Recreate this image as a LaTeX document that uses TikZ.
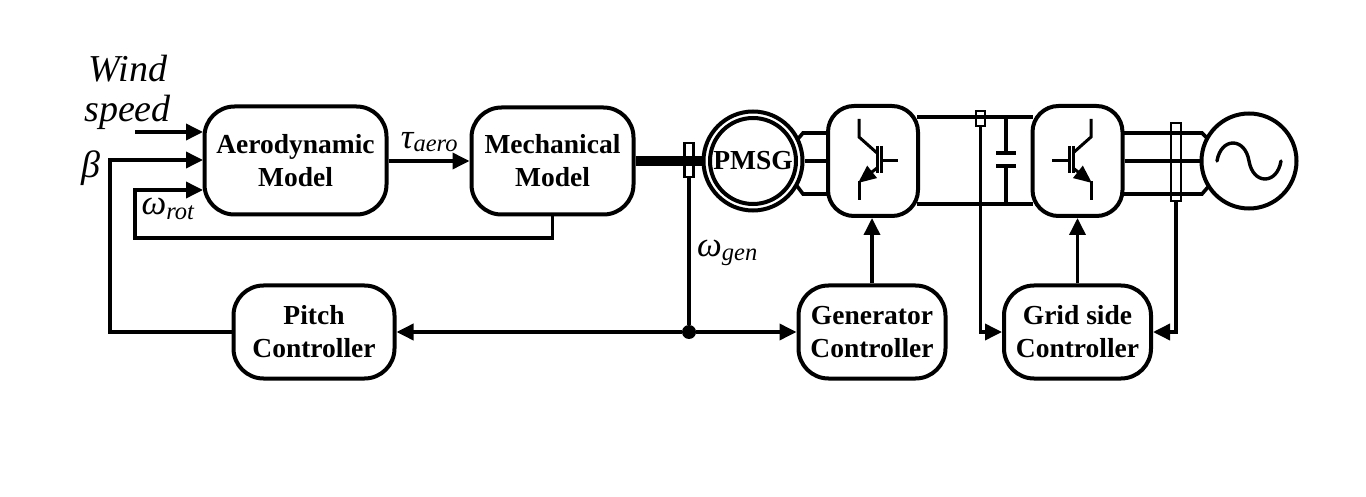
\documentclass[tikz,border=0pt]{standalone}
\usepackage{fontspec}
\setmainfont{Liberation Serif}
\usepackage{tikz}
\usetikzlibrary{arrows.meta, calc}
\tikzset{
    blockbox/.style={draw, line width=4pt, rounded corners=30pt, align=center, font=\fontsize{27.5}{33}\selectfont\bfseries},
    convbox/.style={draw, line width=4pt, rounded corners=26pt, minimum width=90pt, minimum height=110pt},
    sig/.style={line width=3.6pt, -{Triangle[length=17pt,width=16pt]}},
    wire/.style={line width=3.6pt},
    thinwire/.style={line width=3pt},
    sensor/.style={draw, line width=2.8pt, inner sep=0pt},
    lbl/.style={inner sep=0pt, font=\fontsize{38}{40}\selectfont\itshape},
    sublbl/.style={inner sep=0pt, font=\fontsize{35}{38}\selectfont\itshape}
}
\begin{document}
\begin{tikzpicture}[x=1pt, y=-1pt]
    \useasboundingbox (0,0) rectangle (1366,497);
    % blocks
    \node[blockbox, minimum width=182pt, minimum height=108pt] (aero) at (295.5,160.5) {Aerodynamic\\Model};
    \node[blockbox, minimum width=162pt, minimum height=107pt] (mech) at (552.5,161) {Mechanical\\Model};
    \node[blockbox, minimum width=161pt, minimum height=93pt] (pitch) at (314,332) {Pitch\\Controller};
    \node[blockbox, minimum width=147pt, minimum height=93pt] (genctrl) at (872,332) {Generator\\Controller};
    \node[blockbox, minimum width=147pt, minimum height=93pt] (gridctrl) at (1077.5,332) {Grid side\\Controller};
    \node[convbox] (convA) at (873,161) {};
    \node[convbox] (convB) at (1077.5,161) {};
    % machines
    \node[circle, draw, line width=4pt, minimum size=99pt, inner sep=0pt] (pmsgout) at (753,161) {};
    \node[circle, draw, line width=4pt, minimum size=86pt, inner sep=0pt, font=\fontsize{27.5}{30}\selectfont\bfseries] (pmsg) at (753,161) {PMSG};
    \node[circle, draw, line width=4pt, minimum size=95pt, inner sep=0pt] (grid) at (1249,161) {};
    \draw[line width=3.4pt, line cap=round] (1217,161) .. controls (1221,137) and (1245,137) .. (1249,161) .. controls (1253,185) and (1277,185) .. (1281,161);
    % sensors
    \node[sensor, minimum width=9pt, minimum height=34pt] (shaftsens) at (689,160) {};
    \node[sensor, minimum width=9pt, minimum height=15pt] (dcsens) at (980.5,118.5) {};
    \node[sensor, minimum width=10pt, minimum height=78pt] (acsens) at (1176,162) {};
    \node[circle, fill, inner sep=0pt, minimum size=14pt] (junc) at (689,332) {};
    % shaft and inputs
    \draw[line width=10pt] (mech.east) -- (pmsgout.west);
    \coordinate (windin) at (135,132);
    \coordinate (windend) at (203,132);
    \coordinate (betaend) at (203,160);
    \coordinate (betacorner) at (110,160);
    \coordinate (omegaend) at (203,190);
    \coordinate (omegacorner) at (135,190);
    \coordinate (omegalow) at (135,238);
    \draw[sig] (windin) -- (windend);
    \draw[sig] (pitch.west) -| (betacorner) -- (betaend);
    \draw[sig] (mech.south) |- (omegalow) -- (omegacorner) -- (omegaend);
    \draw[sig] (aero.east |- mech.east) -- (mech.west);
    % controller links
    \draw[wire] (shaftsens.south) -- (junc);
    \draw[sig] (junc) -- (pitch.east);
    \draw[sig] (junc) -- (genctrl.west);
    \draw[sig] (genctrl.north) -- (genctrl.north |- convA.south);
    \draw[sig] (gridctrl.north) -- (convB.south);
    \draw[sig] (dcsens.south) |- (gridctrl.west);
    \draw[sig] (acsens.south) |- (gridctrl.east);
    % generator side wires
    \draw[wire] (797,140) -- (803,133) -- (827,133);
    \draw[wire] (pmsgout.east) -- (convA.west);
    \draw[wire] (797,186) -- (803,194) -- (827,194);
    % dc link
    \draw[wire] (917,117) -- (1033,117);
    \draw[wire] (917,204) -- (1033,204);
    \coordinate (captop) at (1006,153);
    \coordinate (capbot) at (1006,166);
    \draw[wire] (1006,117) -- (captop);
    \draw[wire] (capbot) -- (1006,204);
    \draw[line width=3.6pt] (996,153) -- (1016,153);
    \draw[line width=3.6pt] (996,166) -- (1016,166);
    % grid side wires
    \draw[wire] (1122,133) -- (1202,133) -- (1208,139);
    \draw[wire] (convB.east) -- (grid.west);
    \draw[wire] (1122,194) -- (1202,194) -- (1208,187);
    % switch in first converter
    \draw[thinwire] (859,119) -- (859,137) -- (877,153);
    \draw[thinwire] (877,146) -- (877,173);
    \draw[thinwire] (881,146) -- (881,173);
    \draw[thinwire] (881,161) -- (898,161);
    \draw[thinwire] (859,200) -- (859,181);
    \draw[thinwire, -{Triangle[length=18pt,width=15pt]}] (877,168) -- (858,183);
    % switch in second converter
    \draw[thinwire] (1091,119) -- (1091,137) -- (1073,153);
    \draw[thinwire] (1073,146) -- (1073,173);
    \draw[thinwire] (1069,146) -- (1069,173);
    \draw[thinwire] (1052,161) -- (1069,161);
    \draw[thinwire] (1091,200) -- (1091,181);
    \draw[thinwire, -{Triangle[length=18pt,width=15pt]}] (1073,168) -- (1092,183);
    % labels
    \node[lbl] (windlbl) at (128,69) {Wind};
    \node[lbl] (speedlbl) at (127.5,112) {speed};
    \node[lbl] (betalbl) at (91,168) {β};
    \node[sublbl] (taulbl) at (429.5,142) {τ\textsubscript{aero}};
    \node[sublbl] (omegarotlbl) at (168,209) {ω\textsubscript{rot}};
    \node[sublbl] (omegagenlbl) at (727.5,253) {ω\textsubscript{gen}};
\end{tikzpicture}
\end{document}
